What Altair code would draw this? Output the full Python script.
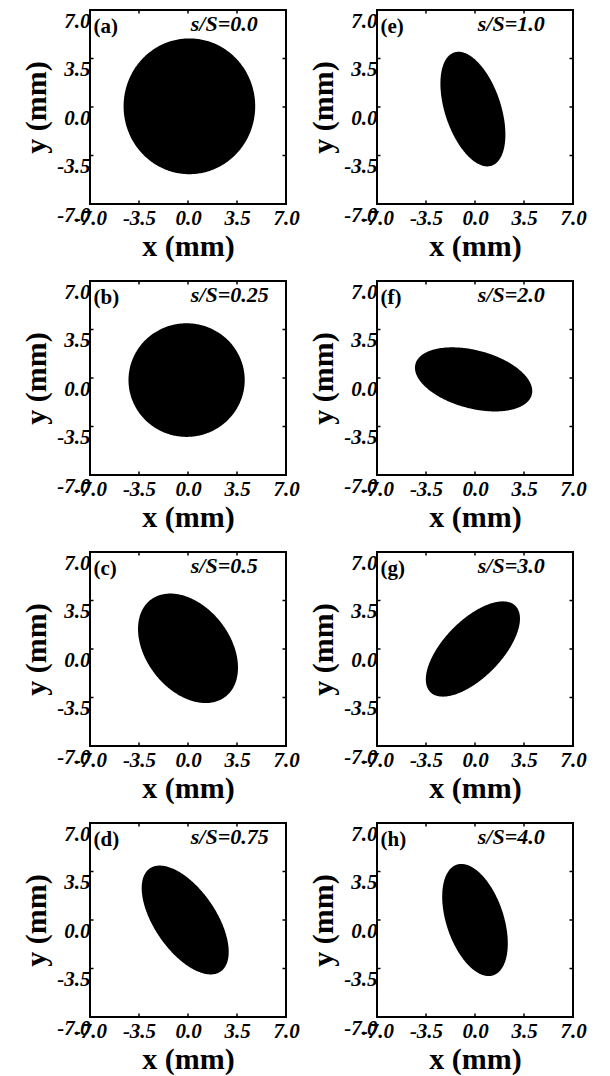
import numpy as np
import pandas as pd
import altair as alt

# Panel order as laid out: left column (a)-(d), right column (e)-(h)
panel_tags = ["(a)", "(b)", "(c)", "(d)", "(e)", "(f)", "(g)", "(h)"]
ratio_labels = ["s/S=0.0", "s/S=0.25", "s/S=0.5", "s/S=0.75",
                "s/S=1.0", "s/S=2.0", "s/S=3.0", "s/S=4.0"]

# Beam spot in each panel: centre (mm), semi-axes (mm), tilt of the major axis (deg)
center_x = [0.1, -0.1, 0.0, -0.2, -0.15, -0.1, -0.15, 0.0]
center_y = [0.05, -0.15, 0.05, 0.0, -0.15, -0.1, 0.0, 0.0]
semi_major = [4.9, 4.15, 4.4, 4.5, 4.3, 4.3, 4.35, 4.2]
semi_minor = [4.7, 4.1, 3.0, 2.2, 2.0, 2.1, 2.05, 2.05]
tilt_deg = [90, 0, -53, -56, -72, -15, 46, -72]

tick_values = [-7.0, -3.5, 0.0, 3.5, 7.0]

SERIF = "Liberation Serif"
LIM = 7.0
TICK_LEN = 0.25
PANEL_W = 196
PANEL_H = 194

scale = alt.Scale(domain=[-LIM, LIM], nice=False, zero=False)
hyphen_labels = "(datum.value < 0 ? '-' : '') + format(abs(datum.value), '.1f')"


def spot_outline(cx, cy, a, b, tilt):
    """Lower/upper boundary of a tilted elliptical spot, sampled along x."""
    th = np.deg2rad(tilt)
    c, s = np.cos(th), np.sin(th)
    mxx = a * a * c * c + b * b * s * s
    myy = a * a * s * s + b * b * c * c
    mxy = (a * a - b * b) * s * c
    half_w = np.sqrt(mxx)
    t = np.linspace(np.pi, 0.0, 181)
    dx = half_w * np.cos(t)
    mid = mxy / mxx * dx
    half_h = np.sqrt(np.clip((myy - mxy ** 2 / mxx) * (1 - dx ** 2 / mxx), 0, None))
    return pd.DataFrame({"x": cx + dx, "lo": cy + mid - half_h, "hi": cy + mid + half_h})


# short inward ticks on all four sides of the frame
inner_ticks = [v for v in tick_values if abs(v) < LIM]
tick_rows = []
for v in inner_ticks:
    tick_rows += [
        dict(x0=v, x1=v, y0=-LIM, y1=-LIM + TICK_LEN),
        dict(x0=v, x1=v, y0=LIM, y1=LIM - TICK_LEN),
        dict(x0=-LIM, x1=-LIM + TICK_LEN, y0=v, y1=v),
        dict(x0=LIM, x1=LIM - TICK_LEN, y0=v, y1=v),
    ]
tick_df = pd.DataFrame(tick_rows)


def axis(title):
    common = dict(
        values=tick_values, labelExpr=hyphen_labels, grid=False, ticks=False,
        domain=False, labelFont=SERIF, labelFontSize=21, labelFontWeight="bold",
        labelFontStyle="italic", labelColor="black", labelOverlap=False,
        labelFlush=False, labelBound=False, titleFont=SERIF,
        titleFontSize=30, titleFontWeight="bold", titleColor="black",
    )
    if title.startswith("x"):
        return alt.Axis(labelPadding=3, titlePadding=3, **common)
    return alt.Axis(labelPadding=0, labelBaseline="top", titlePadding=5, **common)


def xenc(field):
    return alt.X(field, type="quantitative", scale=scale, axis=axis("x (mm)"),
                 title="x (mm)")


def yenc(field):
    return alt.Y(field, type="quantitative", scale=scale, axis=axis("y (mm)"),
                 title="y (mm)")


def panel(i):
    spot = alt.Chart(spot_outline(center_x[i], center_y[i], semi_major[i],
                                  semi_minor[i], tilt_deg[i])).mark_area(
        color="black", interpolate="linear"
    ).encode(x=xenc("x"), y=yenc("lo"), y2="hi:Q")
    frame_ticks = alt.Chart(tick_df).mark_rule(color="black", strokeWidth=1.5).encode(
        x=xenc("x0"), x2="x1:Q", y=yenc("y0"), y2="y1:Q",
    )
    tag_df = pd.DataFrame({"tx": [-6.75], "ty": [6.55], "txt": [panel_tags[i]]})
    ratio_df = pd.DataFrame({"tx": [0.2], "ty": [6.7], "txt": [ratio_labels[i]]})
    tag = alt.Chart(tag_df).mark_text(
        font=SERIF, fontSize=21, fontWeight="bold", align="left",
        baseline="top", color="black"
    ).encode(x=xenc("tx"), y=yenc("ty"), text="txt:N")
    ratio = alt.Chart(ratio_df).mark_text(
        font=SERIF, fontSize=22, fontWeight="bold", fontStyle="italic",
        align="left", baseline="top", color="black"
    ).encode(x=xenc("tx"), y=yenc("ty"), text="txt:N")
    return alt.layer(spot, frame_ticks, tag, ratio).properties(
        width=PANEL_W, height=PANEL_H)


rows = [alt.hconcat(panel(r), panel(r + 4), spacing=6) for r in range(4)]

chart = alt.vconcat(*rows, spacing=17).properties(
    padding={"left": 20, "top": 8, "right": 5, "bottom": 0},
    background="white",
).configure_view(stroke="black", strokeWidth=2)

chart.save("out.html", embed_options={"renderer": "svg", "actions": False})
